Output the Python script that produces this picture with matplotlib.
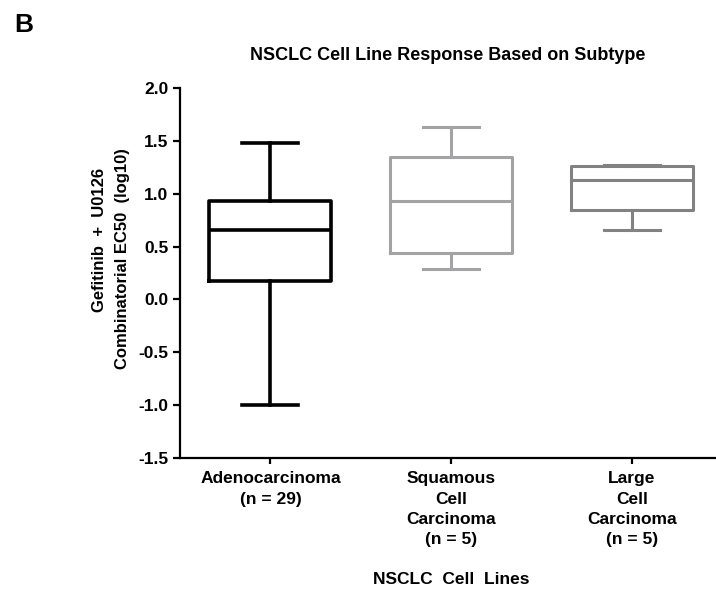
import matplotlib
matplotlib.use('Agg')
from matplotlib import pyplot as plt

plt.rcParams['font.family'] = ['Liberation Sans', 'DejaVu Sans']
plt.rcParams['font.weight'] = 'bold'

# box statistics per NSCLC subtype (log10 EC50)
groups = ['Adenocarcinoma\n(n = 29)',
          'Squamous\nCell\nCarcinoma\n(n = 5)',
          'Large\nCell\nCarcinoma\n(n = 5)']
whislo = [-1.00, 0.29, 0.66]
q1 = [0.17, 0.44, 0.845]
med = [0.655, 0.93, 1.13]
q3 = [0.93, 1.345, 1.26]
whishi = [1.48, 1.63, 1.275]
colors = ['black', '#a3a3a6', '#828282']
yticks = [-1.5, -1.0, -0.5, 0.0, 0.5, 1.0, 1.5, 2.0]

W, H = 716, 590
fig = plt.figure(figsize=(W / 100, H / 100), dpi=100)
ax = fig.add_axes([0.2514, 0.2237, 0.7486, 0.6271])

for i in range(len(groups)):
    st = [{'whislo': whislo[i], 'q1': q1[i], 'med': med[i],
           'q3': q3[i], 'whishi': whishi[i], 'fliers': []}]
    lw = 2.6 if i == 0 else 2.2
    c = colors[i]
    ax.bxp(st, positions=[i + 1], widths=0.675, showfliers=False,
           boxprops=dict(color=c, lw=lw),
           medianprops=dict(color=c, lw=lw),
           whiskerprops=dict(color=c, lw=lw),
           capprops=dict(color=c, lw=lw),
           capwidths=0.31)

ax.set_xlim(0.5, 3.465)
ax.set_ylim(-1.5, 2.0)
ax.set_yticks(yticks)
ax.set_yticklabels(['%.1f' % v for v in yticks])
ax.set_xticks([1, 2, 3])
ax.set_xticklabels(groups, fontsize=12.5, fontweight='bold', linespacing=1.45)
ax.tick_params(axis='y', labelsize=12.5, width=1.6, length=5, direction='out')
ax.tick_params(axis='x', width=1.6, length=4, direction='out', pad=5.5)
for lab in ax.get_yticklabels():
    lab.set_fontweight('bold')

for s in ['top', 'right']:
    ax.spines[s].set_visible(False)
for s in ['left', 'bottom']:
    ax.spines[s].set_linewidth(1.6)

# two-line y label, each line placed on its own
fig.text(100 / W, 1 - 240 / H, 'Gefitinib  +  U0126', rotation=90,
         fontsize=12, fontweight='bold', ha='center', va='center')
fig.text(123 / W, 1 - 259 / H, 'Combinatorial EC50  (log10)', rotation=90,
         fontsize=12, fontweight='bold', ha='center', va='center')

fig.text(451 / W, 1 - 579 / H, 'NSCLC  Cell  Lines', fontsize=12.5,
         fontweight='bold', ha='center', va='center')
fig.text(448 / W, 1 - 55 / H, 'NSCLC Cell Line Response Based on Subtype',
         fontsize=13, fontweight='bold', ha='center', va='center')
fig.text(14 / W, 1 - 25 / H, 'B', fontsize=19, fontweight='bold',
         ha='left', va='center')

fig.savefig('out.png', dpi=100)
